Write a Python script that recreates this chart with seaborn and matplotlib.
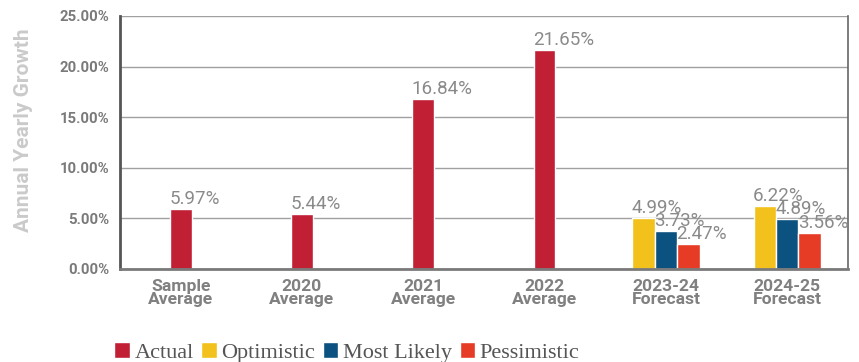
import matplotlib
matplotlib.use("Agg")
import matplotlib.pyplot as plt
import seaborn as sns
import pandas as pd

# Categories and growth values (percent)
categories = ["Sample\nAverage", "2020\nAverage", "2021\nAverage", "2022\nAverage",
              "2023-24\nForecast", "2024-25\nForecast"]
actual_values = [5.97, 5.44, 16.84, 21.65]
forecast_categories = ["2023-24\nForecast", "2024-25\nForecast"]
optimistic_values = [4.99, 6.22]
most_likely_values = [3.73, 4.89]
pessimistic_values = [2.47, 3.56]
y_ticks = [0, 5, 10, 15, 20, 25]

series_colors = {
    "Actual": "#C01F34",
    "Optimistic": "#F2C11B",
    "Most Likely": "#0C5280",
    "Pessimistic": "#E63B25",
}

actual_df = pd.DataFrame({
    "category": categories[:4],
    "value": actual_values,
    "series": "Actual",
})
forecast_df = pd.concat([
    pd.DataFrame({"category": forecast_categories, "value": optimistic_values, "series": "Optimistic"}),
    pd.DataFrame({"category": forecast_categories, "value": most_likely_values, "series": "Most Likely"}),
    pd.DataFrame({"category": forecast_categories, "value": pessimistic_values, "series": "Pessimistic"}),
], ignore_index=True)

sns.set_theme(style="white")
plt.rcParams["font.family"] = ["Roboto", "DejaVu Sans"]

fig = plt.figure(figsize=(8.59, 3.62), dpi=100)
ax = fig.add_axes([0.1397, 0.257, 0.8473, 0.699])

sns.barplot(data=actual_df, x="category", y="value", hue="series", order=categories,
            palette={"Actual": series_colors["Actual"]}, width=0.18, ax=ax,
            saturation=1, legend=True)
sns.barplot(data=forecast_df, x="category", y="value", hue="series", order=categories,
            hue_order=["Optimistic", "Most Likely", "Pessimistic"],
            palette=series_colors, width=0.555, ax=ax, saturation=1, legend=True)

# Value labels, left-aligned on each bar
for container in ax.containers:
    for bar in container:
        h = bar.get_height()
        if h != h or h == 0:
            continue
        ax.text(bar.get_x() - 0.005, h + 0.1, f"{h:.2f}%", ha="left", va="bottom",
                fontsize=13.5, color="#8a8a8a", fontweight="normal")

ax.set_xlim(-0.5, 5.5)
ax.set_ylim(0, 25)
ax.set_yticks(y_ticks)
ax.set_yticklabels([f"{t:.2f}%" for t in y_ticks])
ax.yaxis.grid(True, color="#a0a0a0", linewidth=1.0)
ax.set_axisbelow(True)
ax.tick_params(axis="y", length=0, pad=8, labelsize=10.7, labelcolor="#7a7a7a")
ax.tick_params(axis="x", length=0, pad=7, labelsize=12.6, labelcolor="#808080")
for lab in ax.get_yticklabels() + ax.get_xticklabels():
    lab.set_fontweight("bold")
for lab in ax.get_xticklabels():
    lab.set_linespacing(0.85)

ax.set_xlabel("")
ax.set_ylabel("Annual Yearly Growth", fontsize=15, fontweight="bold", color="#cacaca")
ax.yaxis.set_label_coords(-0.12, 0.55)

ax.spines["top"].set_visible(False)
ax.spines["left"].set_color("#555555")
ax.spines["left"].set_linewidth(2)
ax.spines["bottom"].set_color("#7a7a7a")
ax.spines["bottom"].set_linewidth(2)
ax.spines["right"].set_color("#666666")
ax.spines["right"].set_linewidth(1.2)

handles, labels = ax.get_legend_handles_labels()
ax.legend(handles, labels, loc="center left", bbox_to_anchor=(-0.02, -0.33),
          ncol=4, frameon=False, handlelength=0.7, handleheight=0.7,
          handletextpad=0.2, columnspacing=0.35, borderaxespad=0,
          prop={"family": "Liberation Serif", "size": 16},
          labelcolor="#555555")

fig.savefig("out.png", dpi=100)
